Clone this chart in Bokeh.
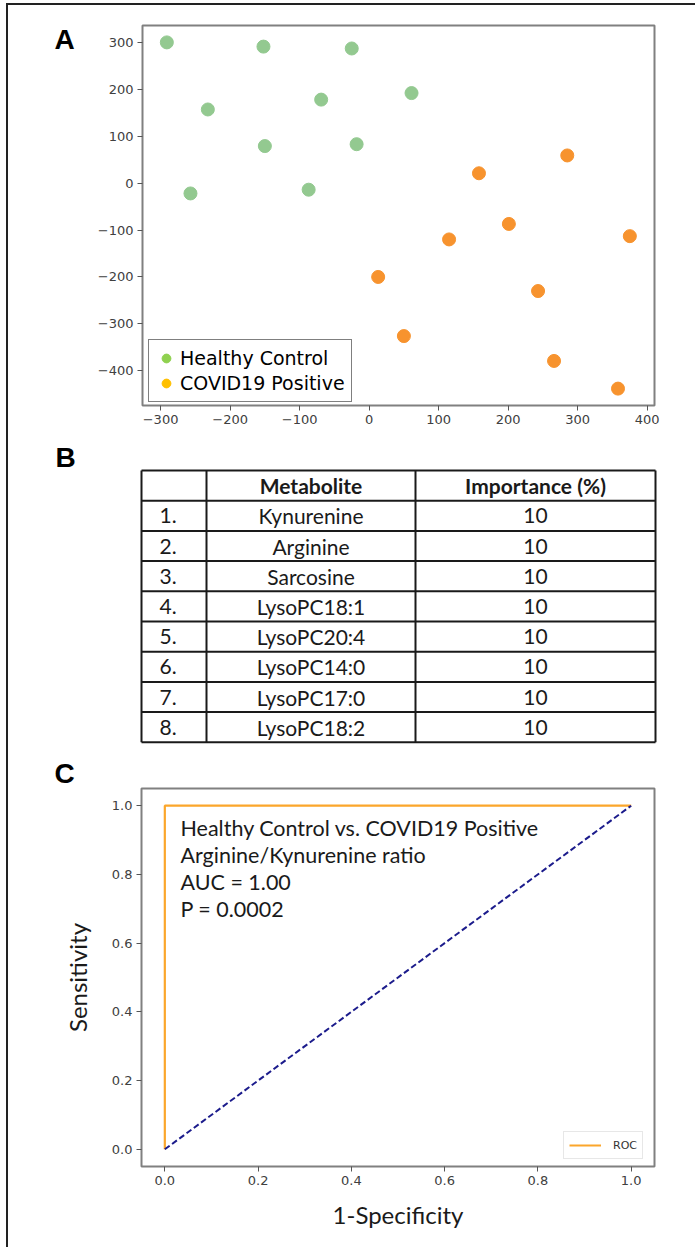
from bokeh.plotting import figure
from bokeh.layouts import column, row
from bokeh.models import (Range1d, Label, Legend, LegendItem, FixedTicker,
                          CustomJSTickFormatter, Title)
from bokeh.embed import file_html
from bokeh.resources import INLINE
from bokeh.core.properties import value

# ---------------- data ----------------
# Panel A: 2-D embedding of samples
healthy_x = [-291, -152, -25, -232, -69, 61, -150, -18, -257, -87]
healthy_y = [300, 291, 287, 157, 178, 192, 79, 83, -22, -14]
covid_x = [285, 158, 201, 115, 375, 13, 243, 50, 266, 358]
covid_y = [59, 21, -87, -120, -113, -200, -230, -326, -379, -438]
group_labels = ["Healthy Control", "COVID19 Positive"]
a_xticks = [-300, -200, -100, 0, 100, 200, 300, 400]
a_yticks = [-400, -300, -200, -100, 0, 100, 200, 300]

# Panel B: metabolite importance table
table_header = ["", "Metabolite", "Importance (%)"]
ranks = ["1.", "2.", "3.", "4.", "5.", "6.", "7.", "8."]
metabolites = ["Kynurenine", "Arginine", "Sarcosine", "LysoPC18:1",
               "LysoPC20:4", "LysoPC14:0", "LysoPC17:0", "LysoPC18:2"]
importance = ["10", "10", "10", "10", "10", "10", "10", "10"]

# Panel C: ROC curve
roc_fpr = [0.0, 0.0, 1.0]
roc_tpr = [0.0, 1.0, 1.0]
chance_x = [0.0, 1.0]
chance_y = [0.0, 1.0]
c_ticks = [0.0, 0.2, 0.4, 0.6, 0.8, 1.0]
annotation_lines = ["Healthy Control vs. COVID19 Positive",
                    "Arginine/Kynurenine ratio",
                    "AUC = 1.00",
                    "P = 0.0002"]
panel_letters = ["A", "B", "C"]

# ---------------- styling helpers ----------------
GREEN = "#93c990"
ORANGE = "#f7932e"
LEG_GREEN = "#8fd14f"
LEG_ORANGE = "#ffc000"
TEXT = "#1a1a1a"
ORIGIN_X, ORIGIN_Y = 8, 5          # page position of the layout's content
TOTAL_W = 687
LETTER_SHIFT = 10                  # renderer places alphabetic baseline lower


def style_axes(p):
    p.xgrid.visible = False
    p.ygrid.visible = False
    p.outline_line_color = "#808080"
    p.outline_line_width = 2
    p.background_fill_color = "white"
    p.border_fill_color = "white"
    for ax in p.axis:
        ax.axis_line_color = None
        ax.major_tick_out = 5
        ax.major_tick_in = 0
        ax.minor_tick_line_color = None
        ax.major_tick_line_color = "#555555"
        ax.major_tick_line_width = 1
        ax.major_label_text_font = "DejaVu Sans"
        ax.major_label_text_font_size = "13px"
        ax.major_label_text_color = "#404040"
        ax.major_label_standoff = 4


def letter_label(letter, x, y):
    return Label(x=x, y=y - LETTER_SHIFT, text=letter,
                 text_font="Liberation Sans",
                 text_font_style="bold", text_font_size="28px",
                 text_color="black", text_baseline="alphabetic",
                 text_align="left")


def blank_fig(width, height, x0, x1, y_top, y_bottom):
    f = figure(width=width, height=height, x_range=Range1d(x0, x1),
               y_range=Range1d(y_bottom, y_top), x_axis_type=None,
               y_axis_type=None, output_backend="svg", toolbar_location=None,
               min_border=0, frame_align=False)
    f.outline_line_color = None
    f.xgrid.visible = False
    f.ygrid.visible = False
    return f


# ---------------- Panel A ----------------
XA = (-326.0, 410.5)
YA = (-474.0, 336.0)
A_TOP_PAGE, A_BOTTOM_PAGE = ORIGIN_Y, 440
A_H = A_BOTTOM_PAGE - A_TOP_PAGE
A_FL, A_FR, A_FT, A_FB = 142, 654, 25, 405   # frame edges in page pixels
LA_W = 82                                      # width of the letter strip

la = blank_fig(LA_W, A_H, ORIGIN_X, ORIGIN_X + LA_W, A_TOP_PAGE, A_BOTTOM_PAGE)
la.add_layout(letter_label(panel_letters[0], 54, 49))

pa_w = TOTAL_W - LA_W
pa_left = A_FL - ORIGIN_X - LA_W
pa = figure(width=pa_w, height=A_H, x_range=Range1d(*XA), y_range=Range1d(*YA),
            output_backend="svg", toolbar_location=None, frame_align=False,
            min_border_left=pa_left,
            min_border_right=pa_w - pa_left - (A_FR - A_FL),
            min_border_top=A_FT - A_TOP_PAGE,
            min_border_bottom=A_BOTTOM_PAGE - A_FB)
style_axes(pa)
pa.xaxis.ticker = FixedTicker(ticks=a_xticks)
pa.yaxis.ticker = FixedTicker(ticks=a_yticks)
minus_fmt = "return (tick < 0 ? '\\u2212' : '') + Math.abs(tick).toFixed(0);"
pa.xaxis.formatter = CustomJSTickFormatter(code=minus_fmt)
pa.yaxis.formatter = CustomJSTickFormatter(code=minus_fmt)

pa.scatter(healthy_x, healthy_y, size=13, fill_color=GREEN, line_color=GREEN)
pa.scatter(covid_x, covid_y, size=13, fill_color=ORANGE, line_color=ORANGE)
# legend-only swatches (hidden renderers, drawn in the legend only)
rg = pa.scatter(healthy_x[:1], healthy_y[:1], size=10, fill_color=LEG_GREEN,
                line_color=LEG_GREEN, visible=False)
ro = pa.scatter(covid_x[:1], covid_y[:1], size=10, fill_color=LEG_ORANGE,
                line_color=LEG_ORANGE, visible=False)

leg_a = Legend(items=[LegendItem(label=group_labels[0], renderers=[rg]),
                      LegendItem(label=group_labels[1], renderers=[ro])],
               location=(6, 3), margin=0, padding=6, spacing=1,
               glyph_width=22, glyph_height=24, label_height=24,
               label_standoff=3, label_text_font="DejaVu Sans",
               label_text_font_size="19px", label_text_color="black",
               border_line_color="black", border_line_width=1.5,
               background_fill_color="white", background_fill_alpha=1.0,
               inactive_fill_alpha=0.0)
pa.add_layout(leg_a)

# ---------------- Panel B (table + letter B) ----------------
B_TOP_PAGE, B_BOTTOM_PAGE = 440, 752
pb = blank_fig(TOTAL_W, B_BOTTOM_PAGE - B_TOP_PAGE, ORIGIN_X,
               ORIGIN_X + TOTAL_W, B_TOP_PAGE, B_BOTTOM_PAGE)

COL_EDGES = [141, 206, 415, 655]
TABLE_TOP = 470
ROW_H = 30.2
n_rows = len(metabolites) + 1
table_bottom = TABLE_TOP + n_rows * ROW_H

h_y = [TABLE_TOP + i * ROW_H for i in range(n_rows + 1)]
pb.segment(x0=[COL_EDGES[0]] * len(h_y), y0=h_y,
           x1=[COL_EDGES[-1]] * len(h_y), y1=h_y,
           line_color=TEXT, line_width=2)
pb.segment(x0=COL_EDGES, y0=[TABLE_TOP] * len(COL_EDGES),
           x1=COL_EDGES, y1=[table_bottom] * len(COL_EDGES),
           line_color=TEXT, line_width=2)

col_centers = [(COL_EDGES[i] + COL_EDGES[i + 1]) / 2 for i in range(3)]
row_centers = [TABLE_TOP + (i + 0.5) * ROW_H for i in range(n_rows)]

pb.text(x=col_centers[1:], y=[row_centers[0]] * 2, text=table_header[1:],
        text_font=value("Lato"), text_font_style="bold",
        text_font_size="21px", text_color=TEXT,
        text_align="center", text_baseline="middle")
pb.text(x=[COL_EDGES[0] + 18] * len(ranks), y=row_centers[1:], text=ranks,
        text_font=value("Lato"), text_font_size="21px", text_color=TEXT,
        text_align="left", text_baseline="middle")
pb.text(x=[col_centers[1]] * len(metabolites), y=row_centers[1:],
        text=metabolites, text_font=value("Lato"), text_font_size="21px",
        text_color=TEXT, text_align="center", text_baseline="middle")
pb.text(x=[col_centers[2]] * len(importance), y=row_centers[1:],
        text=importance, text_font=value("Lato"), text_font_size="21px",
        text_color=TEXT, text_align="center", text_baseline="middle")

pb.add_layout(letter_label(panel_letters[1], 55, 467))

# ---------------- Panel C ----------------
XC = (-0.05, 1.05)
YC = (-0.05, 1.05)
C_TOP_PAGE, C_BOTTOM_PAGE = 752, 1247
C_FL, C_FR, C_FT, C_FB = 141, 654, 788, 1166


def cx_(px):
    return XC[0] + (px - C_FL) / (C_FR - C_FL) * (XC[1] - XC[0])


def cy_(py):
    return YC[1] - (py - C_FT) / (C_FB - C_FT) * (YC[1] - YC[0])


pc = figure(width=TOTAL_W, height=C_BOTTOM_PAGE - C_TOP_PAGE,
            x_range=Range1d(*XC), y_range=Range1d(*YC),
            output_backend="svg", toolbar_location=None, frame_align=False,
            min_border_left=C_FL - ORIGIN_X,
            min_border_right=ORIGIN_X + TOTAL_W - C_FR,
            min_border_top=C_FT - C_TOP_PAGE,
            min_border_bottom=C_BOTTOM_PAGE - C_FB)
style_axes(pc)
pc.add_layout(Title(text=panel_letters[2], align="left", offset=54 - C_FL,
                    standoff=0, text_font="Liberation Sans",
                    text_font_style="bold", text_font_size="28px",
                    text_color="black"), "above")
pc.xaxis.ticker = FixedTicker(ticks=c_ticks)
pc.yaxis.ticker = FixedTicker(ticks=c_ticks)
pc.xaxis.formatter = CustomJSTickFormatter(code="return tick.toFixed(1);")
pc.yaxis.formatter = CustomJSTickFormatter(code="return tick.toFixed(1);")

pc.xaxis.axis_label = "1-Specificity"
pc.yaxis.axis_label = "Sensitivity"
for ax in pc.axis:
    ax.axis_label_text_font = "Lato"
    ax.axis_label_text_font_size = "24px"
    ax.axis_label_text_font_style = "normal"
    ax.axis_label_text_color = TEXT
pc.xaxis.axis_label_standoff = 12
pc.yaxis.axis_label_standoff = 17

roc = pc.line(roc_fpr, roc_tpr, line_color="#fba62b", line_width=2.2)
pc.line(chance_x, chance_y, line_color="#1c1c8c", line_width=2,
        line_dash="6 3")

ann_y = [cy_(827 + i * 27.3) for i in range(len(annotation_lines))]
pc.text(x=[cx_(180)] * len(annotation_lines), y=ann_y, text=annotation_lines,
        text_font=value("Lato"), text_font_size="21.5px", text_color=TEXT,
        text_align="left", text_baseline="middle")

leg_c = Legend(items=[LegendItem(label="ROC", renderers=[roc])],
               location=(422, 7), margin=0, padding=5, spacing=0,
               glyph_width=32, glyph_height=16, label_height=16,
               label_standoff=12, label_text_font="DejaVu Sans",
               label_text_font_size="11px", label_text_color="#333333",
               border_line_color="#cfcfcf", border_line_width=1,
               background_fill_color="white", background_fill_alpha=1.0)
pc.add_layout(leg_c)

layout = column(row(la, pa, spacing=0), pb, pc, spacing=0,
                styles={"border-left": "2px solid #222222",
                        "border-top": "2px solid #222222",
                        "margin-left": "%dpx" % (ORIGIN_X - 2),
                        "margin-top": "%dpx" % (ORIGIN_Y - 2)})

open("out.html", "w").write(file_html(layout, INLINE))
